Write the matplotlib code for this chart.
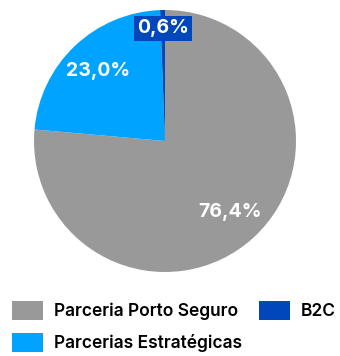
import numpy as np
import matplotlib.pyplot as plt
from matplotlib.patches import Patch

# channel share of sales
categories = ["Parceria Porto Seguro", "Parcerias Estratégicas", "B2C"]
shares = [76.4, 23.0, 0.6]
colors = ["#999999", "#00A3FF", "#0047BB"]

plt.rcParams["font.family"] = ["Inter", "DejaVu Sans"]

fig = plt.figure(figsize=(3.4, 3.56), dpi=100)
ax = fig.add_axes([34 / 340, 1 - 272 / 356, 262 / 340, 262 / 356])

wedges, _ = ax.pie(shares, colors=colors, startangle=90, counterclock=False,
                   radius=1.0, wedgeprops=dict(linewidth=0))
ax.set_xlim(-1, 1)
ax.set_ylim(-1, 1)
ax.set_aspect("equal")
ax.axis("off")

def fmt(v):
  return f"{v:.1f}%".replace(".", ",")

for w, v in zip(wedges, shares):
  mid = np.deg2rad((w.theta1 + w.theta2) / 2)
  if v < 5:
    r = 0.86
    ax.text(r * np.cos(mid), r * np.sin(mid), fmt(v), ha="center", va="center",
            color="white", fontsize=14, fontweight="bold",
            bbox=dict(boxstyle="square,pad=0.17", fc=colors[2], ec="none"))
  else:
    r = 0.74
    ax.text(r * np.cos(mid), r * np.sin(mid), fmt(v), ha="center", va="center",
            color="white", fontsize=14, fontweight="bold")

handles = [Patch(facecolor=c, edgecolor="none", label=l) for c, l in zip(colors, categories)]
fig.legend(handles=handles, ncol=2, loc="upper left", bbox_to_anchor=(0.035, 0.155),
           frameon=False, prop=dict(family=["Inter", "DejaVu Sans"], size=12.5, weight=600),
           handlelength=1.78, handleheight=1.34, handletextpad=0.62,
           columnspacing=1.0, labelspacing=0.72, borderaxespad=0, borderpad=0)

fig.savefig("out.png", dpi=100)
